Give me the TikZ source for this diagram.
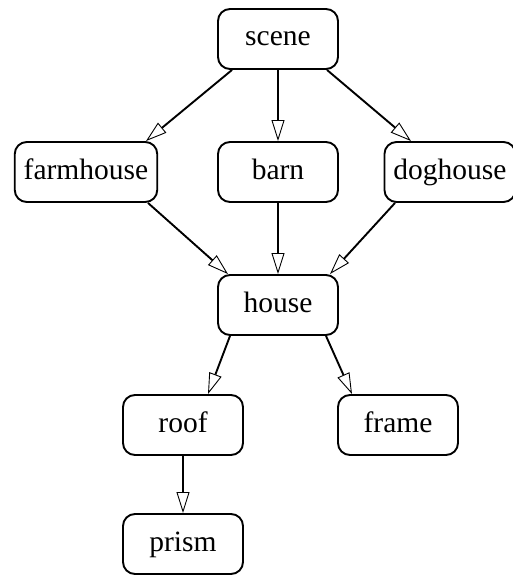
\documentclass[tikz,border=0pt]{standalone}
\usepackage{fontspec}
\setmainfont{Liberation Serif}
\usetikzlibrary{arrows.meta}
\tikzset{
  obj/.style={draw, line width=1.9pt, rounded corners=12pt, minimum width=120pt,
    minimum height=60pt, inner xsep=9pt, inner ysep=0pt, text height=20pt,
    text depth=6pt, font=\fontsize{29.5}{34}\selectfont},
  isa/.style={line width=1.9pt,
    -{Triangle[open, fill=white, length=21pt, width=13pt, line width=0.9pt]}}
}
\begin{document}
\begin{tikzpicture}[x=1pt, y=-1pt]
\useasboundingbox (0,0) rectangle (512,575);

% Top
\node[obj] (scene) at (278,39) {scene};

% Middle row
\node[obj] (farmhouse) at (86,172) {farmhouse};
\node[obj] (barn) at (278,172) {barn};
\node[obj] (doghouse) at (450,172) {doghouse};
\node[obj] (house) at (278,305) {house};

% Parts
\node[obj] (roof) at (183,425) {roof};
\node[obj] (frame) at (398,425) {frame};
\node[obj] (prism) at (183,544) {prism};

% Edges
\draw[isa] ([xshift=-46pt]scene.south) -- ([xshift=60pt]farmhouse.north);
\draw[isa] (scene) -- (barn);
\draw[isa] ([xshift=49pt]scene.south) -- ([xshift=-39pt]doghouse.north);
\draw[isa] ([xshift=62pt]farmhouse.south) -- ([xshift=-50pt]house.north);
\draw[isa] (barn) -- (house);
\draw[isa] ([xshift=-55pt]doghouse.south) -- ([xshift=52pt]house.north);
\draw[isa] ([xshift=-48pt]house.south) -- ([xshift=25pt]roof.north);
\draw[isa] ([xshift=48pt]house.south) -- ([xshift=-46pt]frame.north);
\draw[isa] (roof) -- (prism);
\end{tikzpicture}
\end{document}
